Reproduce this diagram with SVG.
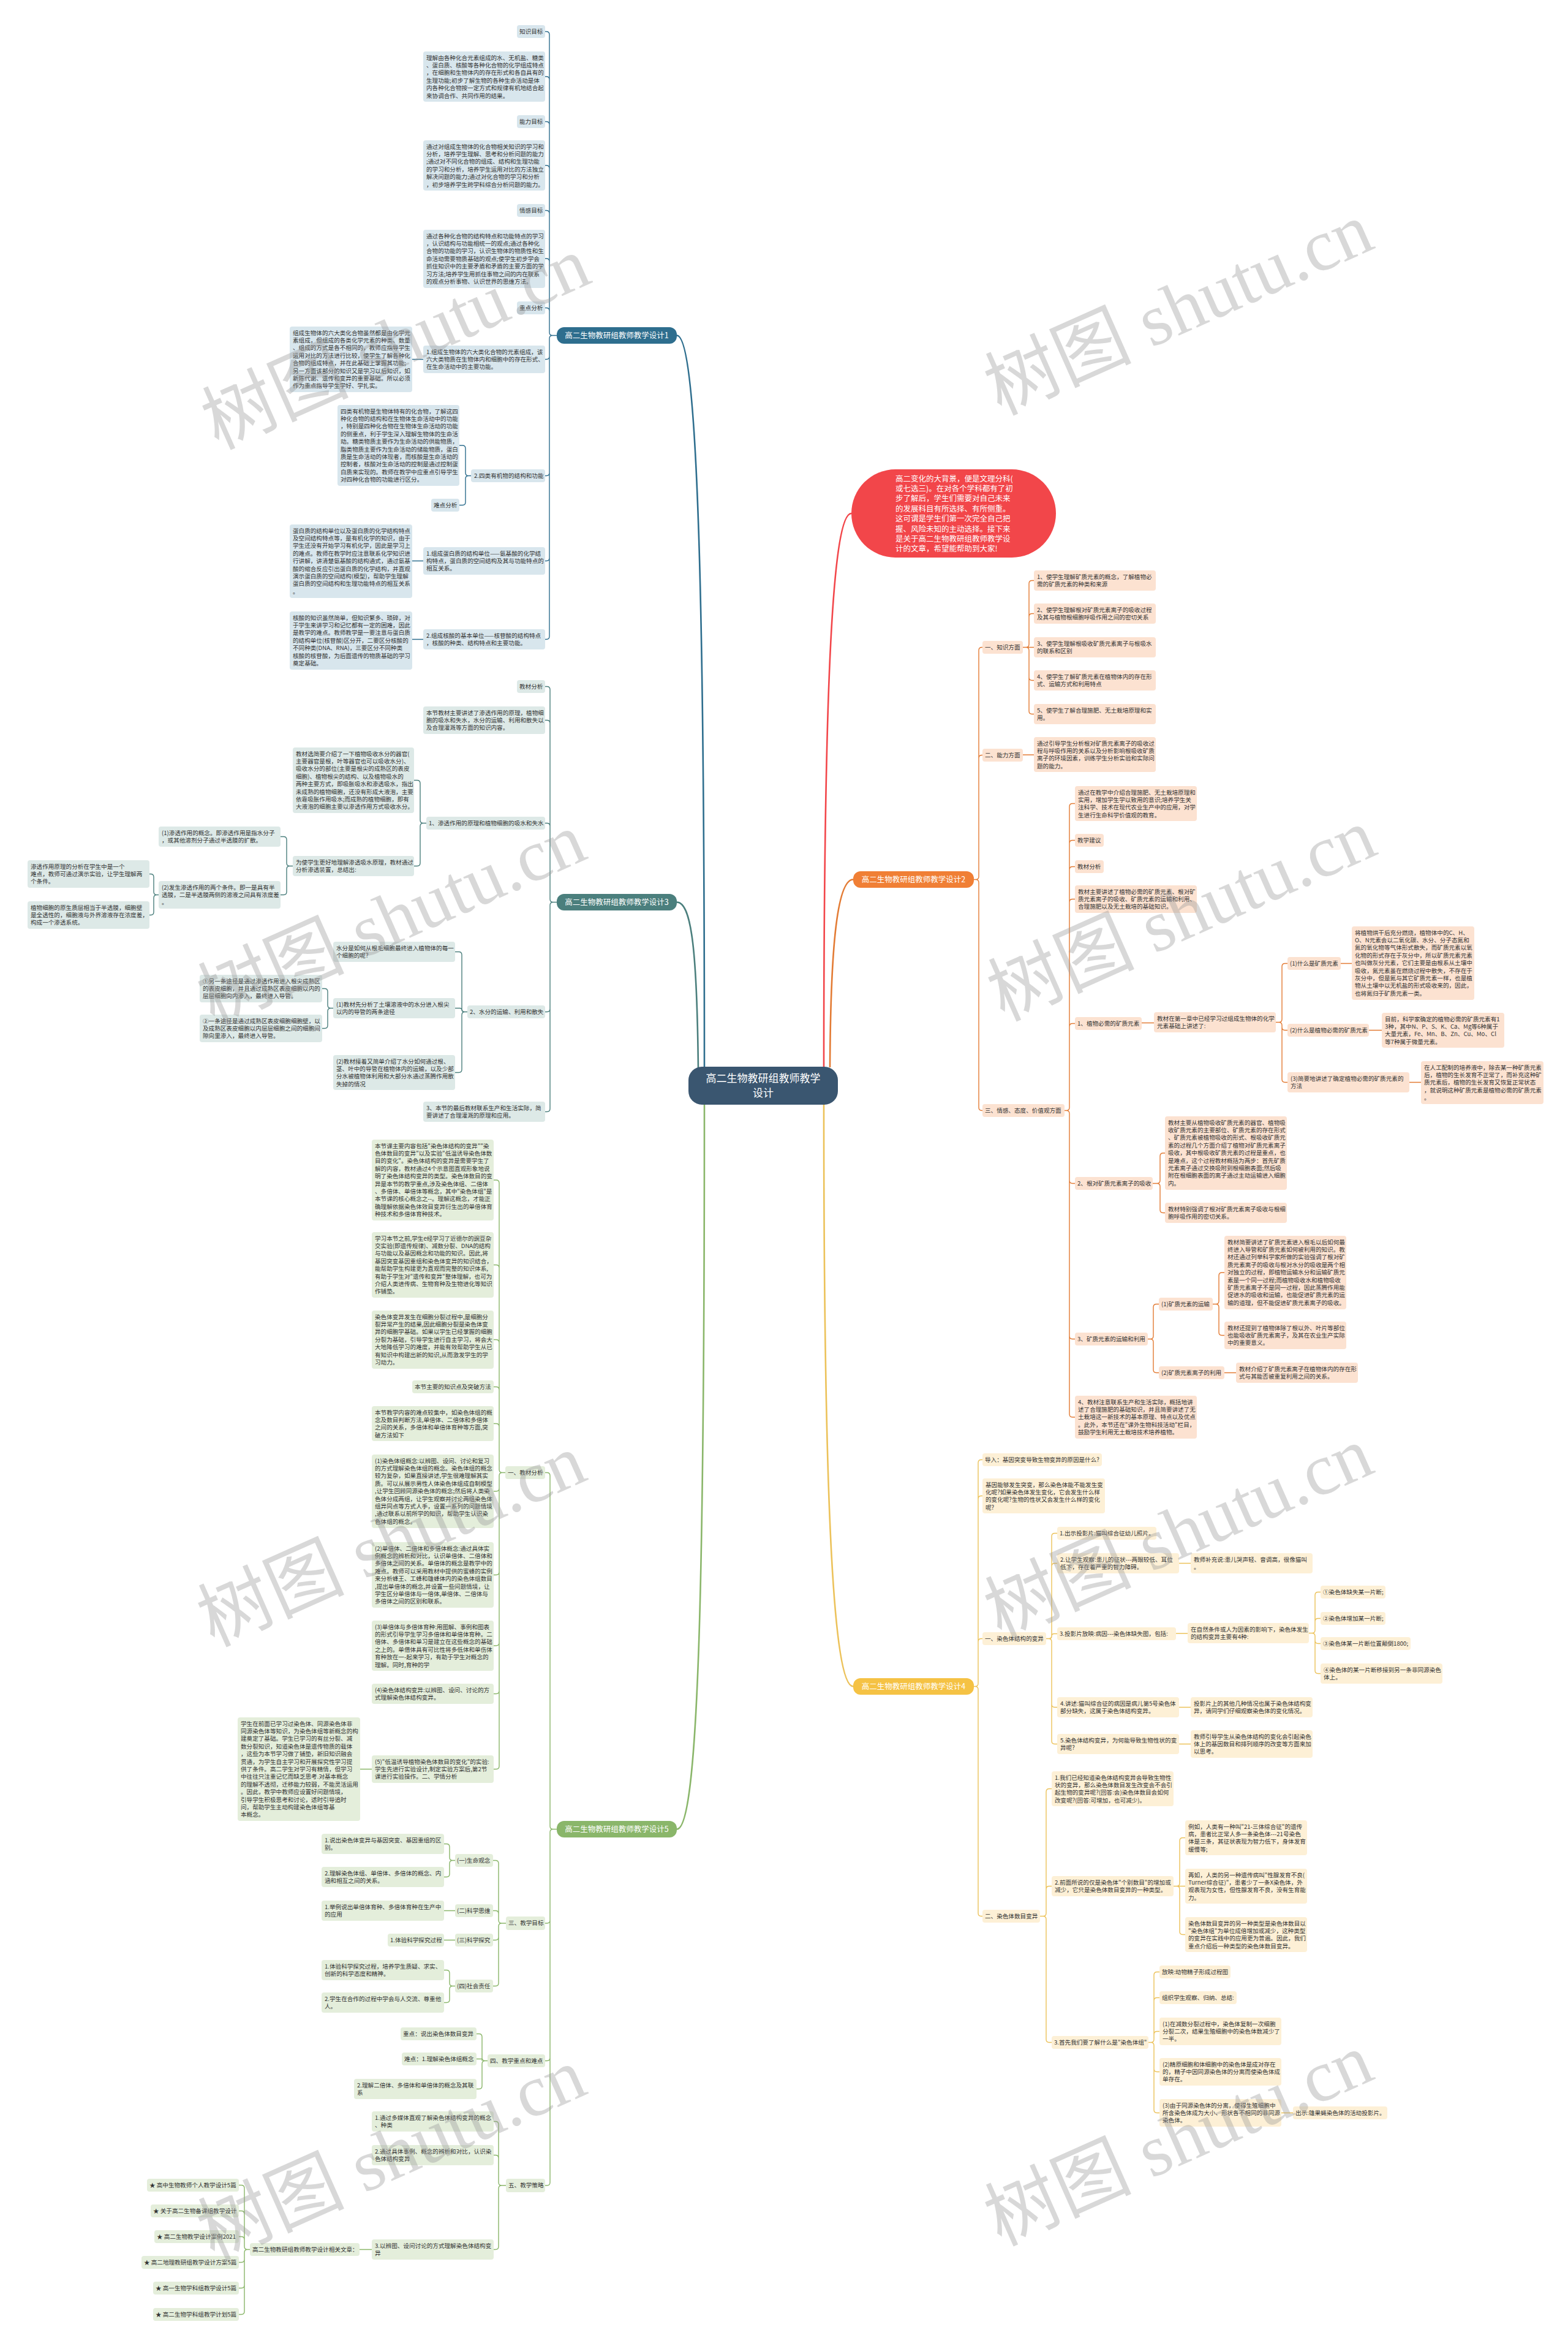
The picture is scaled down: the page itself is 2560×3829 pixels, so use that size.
<svg xmlns="http://www.w3.org/2000/svg" width="2560" height="3829" viewBox="0 0 2560 3829">
<style>
.t{font-family:"Noto Sans CJK SC","Noto Sans",sans-serif;font-size:9.6px;fill:#333}
.bn{font-family:"Noto Sans CJK SC","Noto Sans",sans-serif;font-size:12.5px;text-anchor:middle}
.l1{fill:#d8e6ed}.l3{fill:#dde9e7}.l5{fill:#e4eedb}.l2{fill:#fce2d1}.l4{fill:#fdf0d6}
.c{fill:none;stroke-width:1.4}
.c1{stroke:#2e6e8e}.c3{stroke:#4b7f7d}.c5{stroke:#8ab66a}.c2{stroke:#e37b34}.c4{stroke:#ecc25a}
.rc{fill:none;stroke-width:2.6}
.wm{font-family:"Liberation Serif","Noto Sans CJK SC",serif;font-size:120px;fill:#999;fill-opacity:0.38;text-anchor:middle}
</style>
<rect width="2560" height="3829" fill="#ffffff"/>

<g id="connectors">
<path class="rc c1" d="M1150 1742C1150 1000 1140 547.5 1105 547.5"/>
<path class="rc c3" d="M1140 1745C1138 1560 1130 1472.5 1105 1472.5"/>
<path class="rc c5" d="M1150 1802C1150 2600 1140 2985.5 1105 2985.5"/>
<path class="rc" stroke="#f2464a" d="M1345 1742C1345 1100 1360 838 1390 838"/>
<path class="rc c2" d="M1355 1742C1356 1560 1365 1435.5 1393 1435.5"/>
<path class="rc c4" d="M1345 1802C1345 2450 1360 2752.5 1393 2752.5"/>

<path class="c c1" d="M909 547.5H902Q897 547.5 897 542.5V56.5Q897 51.5 892 51.5H890M897 130Q897 125 892 125H890M897 203.5Q897 198.5 892 198.5H890M897 275Q897 270 892 270H890M897 348.5Q897 343.5 892 343.5H890M897 427Q897 422 892 422H890M897 507.5Q897 502.5 892 502.5H890M902 547.5Q897 547.5 897 552.5V1038.5Q897 1043.5 892 1043.5H890M897 581.5Q897 586.5 892 586.5H890M897 771.5Q897 776.5 892 776.5H890M897 910.5Q897 915.5 892 915.5H890"/>
<path class="c c1" d="M691 586.5H673M769 776.5H765Q760 776.5 760 771.5V732Q760 727 755 727H750M765 776.5Q760 776.5 760 781.5V819.5Q760 824.5 755 824.5H750M691 915.5H673M691 1043.5H673"/>

<path class="c c3" d="M909 1472.5H903Q898 1472.5 898 1467.5V1125.5Q898 1120.5 893 1120.5H890M898 1180.5Q898 1175.5 893 1175.5H890M898 1348.5Q898 1343.5 893 1343.5H890M903 1472.5Q898 1472.5 898 1477.5V1809.5Q898 1814.5 893 1814.5H890M898 1646.5Q898 1651.5 893 1651.5H890"/>
<path class="c c3" d="M696 1343.5H691Q686 1343.5 686 1338.5V1278.5Q686 1273.5 681 1273.5H676M691 1343.5Q686 1343.5 686 1348.5V1408.5Q686 1413.5 681 1413.5H676"/>
<path class="c c3" d="M478 1413.5H473Q468 1413.5 468 1408.5V1370.5Q468 1365.5 463 1365.5H458M473 1413.5Q468 1413.5 468 1418.5V1455.5Q468 1460.5 463 1460.5H458"/>
<path class="c c3" d="M259 1460.5H256Q251 1460.5 251 1455.5V1431.5Q251 1426.5 246 1426.5H244M256 1460.5Q251 1460.5 251 1465.5V1488.5Q251 1493.5 246 1493.5H244"/>
<path class="c c3" d="M763 1651.5H759Q754 1651.5 754 1646.5V1558.5Q754 1553.5 749 1553.5H743M759 1651.5Q754 1651.5 754 1648.5Q754 1645.5 751 1645.5H743M759 1651.5Q754 1651.5 754 1656.5V1745.5Q754 1750.5 749 1750.5H743"/>
<path class="c c3" d="M544 1645.5H540Q535 1645.5 535 1640.5V1618.5Q535 1613.5 530 1613.5H526M540 1645.5Q535 1645.5 535 1650.5V1673.5Q535 1678.5 530 1678.5H526"/>

<path class="c c5" d="M909 2985.5H903Q898 2985.5 898 2980.5V2408.5Q898 2403.5 893 2403.5H890M903 2985.5Q898 2985.5 898 2990.5V3562Q898 3567 893 3567H890M898 3134Q898 3139 893 3139H890M898 3358.5Q898 3363.5 893 3363.5H890"/>
<path class="c c5" d="M825 2403.5H820Q815 2403.5 815 2398.5V1931Q815 1926 810 1926H806M815 2069.5Q815 2064.5 810 2064.5H806M815 2191.5Q815 2186.5 810 2186.5H806M815 2268.5Q815 2263.5 810 2263.5H806M815 2328.5Q815 2323.5 810 2323.5H806M820 2403.5Q815 2403.5 815 2408.5V2882.5Q815 2887.5 810 2887.5H806M815 2429Q815 2434 810 2434H806M815 2565.5Q815 2570.5 810 2570.5H806M815 2681Q815 2686 810 2686H806M815 2759.5Q815 2764.5 810 2764.5H806M607 2887.5H588"/>
<path class="c c5" d="M826 3139H819Q814 3139 814 3134V3041.5Q814 3036.5 809 3036.5H805M814 3123.5Q814 3118.5 809 3118.5H805M819 3139Q814 3139 814 3144V3236.5Q814 3241.5 809 3241.5H805M814 3161.5Q814 3166.5 809 3166.5H805"/>
<path class="c c5" d="M743 3036.5H739Q734 3036.5 734 3031.5V3014.5Q734 3009.5 729 3009.5H725M739 3036.5Q734 3036.5 734 3041.5V3058.5Q734 3063.5 729 3063.5H725M743 3118.5H725M743 3166.5H725M743 3241.5H739Q734 3241.5 734 3236.5V3220.5Q734 3215.5 729 3215.5H725M739 3241.5Q734 3241.5 734 3246.5V3263.5Q734 3268.5 729 3268.5H725"/>
<path class="c c5" d="M796 3363.5H792Q787 3363.5 787 3358.5V3324.5Q787 3319.5 782 3319.5H778M787 3363.5V3360.5H778M792 3363.5Q787 3363.5 787 3368.5V3404.5Q787 3409.5 782 3409.5H778"/>
<path class="c c5" d="M826 3567H819Q814 3567 814 3562V3467.5Q814 3462.5 809 3462.5H806M814 3522.5Q814 3517.5 809 3517.5H806M819 3567Q814 3567 814 3572V3666.5Q814 3671.5 809 3671.5H806M607 3671.5H587"/>
<path class="c c5" d="M408 3671.5H404Q399 3671.5 399 3666.5V3571.5Q399 3566.5 394 3566.5H390M399 3613.5Q399 3608.5 394 3608.5H390M399 3655.5Q399 3650.5 394 3650.5H390M404 3671.5Q399 3671.5 399 3676.5V3772.5Q399 3777.5 394 3777.5H390M399 3687.5Q399 3692.5 394 3692.5H390M399 3729.5Q399 3734.5 394 3734.5H390"/>

<path class="c c2" d="M1590 1435.5H1593Q1598 1435.5 1598 1430.5V1061.5Q1598 1056.5 1603 1056.5H1604M1598 1237.5Q1598 1232.5 1603 1232.5H1604M1593 1435.5Q1598 1435.5 1598 1440.5V1807.5Q1598 1812.5 1603 1812.5H1604"/>
<path class="c c2" d="M1670 1056.5H1675Q1680 1056.5 1680 1051.5V952.5Q1680 947.5 1685 947.5H1688M1680 1006.5Q1680 1001.5 1685 1001.5H1688M1670 1056.5H1688M1675 1056.5Q1680 1056.5 1680 1061.5V1160.5Q1680 1165.5 1685 1165.5H1688M1680 1105.5Q1680 1110.5 1685 1110.5H1688M1670 1232H1688"/>
<path class="c c2" d="M1738 1812.5H1741Q1746 1812.5 1746 1807.5V1316.5Q1746 1311.5 1751 1311.5H1755M1746 1376.5Q1746 1371.5 1751 1371.5H1755M1746 1419.5Q1746 1414.5 1751 1414.5H1755M1746 1472.5Q1746 1467.5 1751 1467.5H1755M1746 1675.5Q1746 1670.5 1751 1670.5H1755M1741 1812.5Q1746 1812.5 1746 1817.5V2308Q1746 2313 1751 2313H1755M1746 1926.5Q1746 1931.5 1751 1931.5H1755M1746 2180.5Q1746 2185.5 1751 2185.5H1755"/>
<path class="c c2" d="M1864 1669.5H1884M2083 1668.5H2088Q2093 1668.5 2093 1663.5V1577.5Q2093 1572.5 2098 1572.5H2102M2088 1668.5Q2093 1668.5 2093 1673.5V1761.5Q2093 1766.5 2098 1766.5H2102M2093 1676.5Q2093 1681.5 2098 1681.5H2102M2189 1572.5H2207M2235 1681.5H2256M2301 1766.5H2320"/>
<path class="c c2" d="M1882 1931.5H1889Q1894 1931.5 1894 1926.5V1887Q1894 1882 1899 1882H1902M1889 1931.5Q1894 1931.5 1894 1936.5V1974.5Q1894 1979.5 1899 1979.5H1902"/>
<path class="c c2" d="M1874 2185.5H1878Q1883 2185.5 1883 2180.5V2133.5Q1883 2128.5 1888 2128.5H1892M1878 2185.5Q1883 2185.5 1883 2190.5V2235.5Q1883 2240.5 1888 2240.5H1892M1980 2128.5H1985Q1990 2128.5 1990 2123.5V2082Q1990 2077 1995 2077H1999M1985 2128.5Q1990 2128.5 1990 2133.5V2174.5Q1990 2179.5 1995 2179.5H1999M1999 2240.5H2018"/>

<path class="c c4" d="M1590 2752.5H1592Q1597 2752.5 1597 2747.5V2387.5Q1597 2382.5 1602 2382.5H1604M1597 2446.5Q1597 2441.5 1602 2441.5H1604M1597 2679.5Q1597 2674.5 1602 2674.5H1604M1592 2752.5Q1597 2752.5 1597 2757.5V3122.5Q1597 3127.5 1602 3127.5H1604"/>
<path class="c c4" d="M1708 2674.5H1712Q1717 2674.5 1717 2669.5V2507.5Q1717 2502.5 1722 2502.5H1726M1717 2556.5Q1717 2551.5 1722 2551.5H1726M1713 2674.5Q1717 2674.5 1717 2670.5Q1717 2666.5 1721 2666.5H1726M1712 2674.5Q1717 2674.5 1717 2679.5V2841.5Q1717 2846.5 1722 2846.5H1726M1717 2781.5Q1717 2786.5 1722 2786.5H1726M1925 2551.5H1944M1920 2666H1939M1925 2786.5H1944M1925 2846.5H1944"/>
<path class="c c4" d="M2137 2665.5H2142Q2147 2665.5 2147 2660.5V2603.5Q2147 2598.5 2152 2598.5H2156M2147 2646.5Q2147 2641.5 2152 2641.5H2156M2142 2665.5Q2147 2665.5 2147 2670.5V2726.5Q2147 2731.5 2152 2731.5H2156M2147 2677.5Q2147 2682.5 2152 2682.5H2156"/>
<path class="c c4" d="M1698 3127.5H1703Q1708 3127.5 1708 3122.5V2924.5Q1708 2919.5 1713 2919.5H1717M1708 3083.5Q1708 3078.5 1713 3078.5H1717M1703 3127.5Q1708 3127.5 1708 3132.5V3328.5Q1708 3333.5 1713 3333.5H1717"/>
<path class="c c4" d="M1916 3078.5H1921Q1926 3078.5 1926 3073.5V3004.5Q1926 2999.5 1931 2999.5H1935M1916 3078.5H1935M1921 3078.5Q1926 3078.5 1926 3083.5V3152.5Q1926 3157.5 1931 3157.5H1935"/>
<path class="c c4" d="M1875 3333.5H1879Q1884 3333.5 1884 3328.5V3223.5Q1884 3218.5 1889 3218.5H1893M1884 3265.5Q1884 3260.5 1889 3260.5H1893M1884 3320.5Q1884 3315.5 1889 3315.5H1893M1879 3333.5Q1884 3333.5 1884 3338.5V3443.5Q1884 3448.5 1889 3448.5H1893M1884 3376.5Q1884 3381.5 1889 3381.5H1893M2092 3448.5H2111"/>
</g>

<g id="root"><rect x="1124" y="1741" width="244" height="62" rx="22" fill="#3a5670"/><text class="bn" x="1246" y="1766" style="font-size:17px" fill="#fff"><tspan x="1246">高二生物教研组教师教学</tspan><tspan x="1246" dy="24">设计</tspan></text></g>

<g id="intro"><rect x="1390" y="766" width="334" height="144" rx="72" fill="#f2464a"/><text class="t" x="1462" y="785.5" style="font-size:12.5px;fill:#fff"><tspan x="1462">高二变化的大背景，便是文理分科(</tspan><tspan x="1462" dy="16.4">或七选三)。在对各个学科都有了初</tspan><tspan x="1462" dy="16.4">步了解后，学生们需要对自己未来</tspan><tspan x="1462" dy="16.4">的发展科目有所选择、有所侧重。</tspan><tspan x="1462" dy="16.4">这可谓是学生们第一次完全自己把</tspan><tspan x="1462" dy="16.4">握、风险未知的主动选择。接下来</tspan><tspan x="1462" dy="16.4">是关于高二生物教研组教师教学设</tspan><tspan x="1462" dy="16.4">计的文章，希望能帮助到大家!</tspan></text></g>

<!-- Branch 1 -->
<g id="b1"><rect x="909" y="534" width="196" height="27" rx="12" fill="#2e6e8e"/><text class="bn" x="1007" y="552" fill="#fff">高二生物教研组教师教学设计1</text></g>
<g id="b1-n01"><rect class="l1" x="844" y="41" width="46" height="21" rx="4"/><text class="t" x="848" y="54.6">知识目标</text></g>
<g id="b1-n02"><rect class="l1" x="691" y="84" width="199" height="82" rx="4"/><text class="t" x="696" y="97.6"><tspan x="696">理解由各种化合元素组成的水、无机盐、糖类</tspan><tspan x="696" dy="12.4">、蛋白质、核酸等各种化合物的化学组成特点</tspan><tspan x="696" dy="12.4">，在细胞和生物体内的存在形式和各自具有的</tspan><tspan x="696" dy="12.4">生理功能;初步了解生物的各种生命活动是体</tspan><tspan x="696" dy="12.4">内各种化合物按一定方式和规律有机地结合起</tspan><tspan x="696" dy="12.4">来协调合作、共同作用的结果。</tspan></text></g>
<g id="b1-n03"><rect class="l1" x="844" y="188" width="46" height="21" rx="4"/><text class="t" x="848" y="201.6">能力目标</text></g>
<g id="b1-n04"><rect class="l1" x="691" y="229" width="199" height="82" rx="4"/><text class="t" x="696" y="242.6"><tspan x="696">通过对组成生物体的化合物相关知识的学习和</tspan><tspan x="696" dy="12.4">分析，培养学生理解、思考和分析问题的能力</tspan><tspan x="696" dy="12.4">;通过对不同化合物的组成、结构和生理功能</tspan><tspan x="696" dy="12.4">的学习和分析，培养学生运用对比的方法独立</tspan><tspan x="696" dy="12.4">解决问题的能力;通过对化合物的学习和分析</tspan><tspan x="696" dy="12.4">，初步培养学生跨学科综合分析问题的能力。</tspan></text></g>
<g id="b1-n05"><rect class="l1" x="844" y="333" width="46" height="21" rx="4"/><text class="t" x="848" y="346.6">情感目标</text></g>
<g id="b1-n06"><rect class="l1" x="691" y="375" width="199" height="95" rx="4"/><text class="t" x="696" y="388.6"><tspan x="696">通过各种化合物的结构特点和功能特点的学习</tspan><tspan x="696" dy="12.4">，认识结构与功能相统一的观点;通过各种化</tspan><tspan x="696" dy="12.4">合物的功能的学习，认识生物体的物质性和生</tspan><tspan x="696" dy="12.4">命活动需要物质基础的观点;使学生初步学会</tspan><tspan x="696" dy="12.4">抓住知识中的主要矛盾和矛盾的主要方面的学</tspan><tspan x="696" dy="12.4">习方法;培养学生用抓住事物之间的内在联系</tspan><tspan x="696" dy="12.4">的观点分析事物、认识世界的思维方法。</tspan></text></g>
<g id="b1-n07"><rect class="l1" x="844" y="492" width="46" height="21" rx="4"/><text class="t" x="848" y="505.6">重点分析</text></g>
<g id="b1-n08"><rect class="l1" x="691" y="564" width="199" height="45" rx="4"/><text class="t" x="696" y="577.6"><tspan x="696">1.组成生物体的六大类化合物的元素组成，该</tspan><tspan x="696" dy="12.4">六大类物质在生物体内和细胞中的存在形式、</tspan><tspan x="696" dy="12.4">在生命活动中的主要功能。</tspan></text></g>
<g id="b1-n09"><rect class="l1" x="473" y="533" width="200" height="107" rx="4"/><text class="t" x="478" y="546.6"><tspan x="478">组成生物体的六大类化合物虽然都是由化学元</tspan><tspan x="478" dy="12.4">素组成，但组成的各类化学元素的种类、数量</tspan><tspan x="478" dy="12.4">、组成的方式是各不相同的，教师应指导学生</tspan><tspan x="478" dy="12.4">运用对比的方法进行比较，使学生了解各种化</tspan><tspan x="478" dy="12.4">合物的组成特点，并在此基础上掌握其功能;</tspan><tspan x="478" dy="12.4">另一方面该部分的知识又是学习以后知识，如</tspan><tspan x="478" dy="12.4">新陈代谢、遗传和变异的重要基础。所以必须</tspan><tspan x="478" dy="12.4">作为重点指导学生学好、学扎实。</tspan></text></g>
<g id="b1-n10"><rect class="l1" x="769" y="766" width="121" height="21" rx="4"/><text class="t" x="774" y="779.6">2.四类有机物的结构和功能</text></g>
<g id="b1-n11"><rect class="l1" x="551" y="661" width="199" height="132" rx="4"/><text class="t" x="556" y="674.6"><tspan x="556">四类有机物是生物体特有的化合物，了解这四</tspan><tspan x="556" dy="12.4">种化合物的结构和在生物体生命活动中的功能</tspan><tspan x="556" dy="12.4">，特别是四种化合物在生物体生命活动的功能</tspan><tspan x="556" dy="12.4">的侧重点，利于学生深入理解生物体的生命活</tspan><tspan x="556" dy="12.4">动。糖类物质主要作为生命活动的供能物质，</tspan><tspan x="556" dy="12.4">脂类物质主要作为生命活动的储能物质，蛋白</tspan><tspan x="556" dy="12.4">质是生命活动的体现者，而核酸是生命活动的</tspan><tspan x="556" dy="12.4">控制者，核酸对生命活动的控制是通过控制蛋</tspan><tspan x="556" dy="12.4">白质来实现的。教师在教学中应重点引导学生</tspan><tspan x="556" dy="12.4">对四种化合物的功能进行区分。</tspan></text></g>
<g id="b1-n12"><rect class="l1" x="704" y="814" width="46" height="21" rx="4"/><text class="t" x="708" y="827.6">难点分析</text></g>
<g id="b1-n13"><rect class="l1" x="691" y="893" width="199" height="45" rx="4"/><text class="t" x="696" y="906.6"><tspan x="696">1.组成蛋白质的结构单位——氨基酸的化学结</tspan><tspan x="696" dy="12.4">构特点，蛋白质的空间结构及其与功能特点的</tspan><tspan x="696" dy="12.4">相互关系。</tspan></text></g>
<g id="b1-n14"><rect class="l1" x="473" y="856" width="200" height="120" rx="4"/><text class="t" x="478" y="869.6"><tspan x="478">蛋白质的结构单位以及蛋白质的化学结构特点</tspan><tspan x="478" dy="12.4">及空间结构特点等，是有机化学的知识，由于</tspan><tspan x="478" dy="12.4">学生还没有开始学习有机化学，因此是学习上</tspan><tspan x="478" dy="12.4">的难点。教师在教学时应注意联系化学知识进</tspan><tspan x="478" dy="12.4">行讲解，讲清楚氨基酸的结构通式，通过氨基</tspan><tspan x="478" dy="12.4">酸的缩合反应引出蛋白质的化学结构，并直观</tspan><tspan x="478" dy="12.4">演示蛋白质的空间结构(模型)，帮助学生理解</tspan><tspan x="478" dy="12.4">蛋白质的空间结构和生理功能特点的相互关系</tspan><tspan x="478" dy="12.4">。</tspan></text></g>
<g id="b1-n15"><rect class="l1" x="691" y="1027" width="199" height="33" rx="4"/><text class="t" x="696" y="1040.6"><tspan x="696">2.组成核酸的基本单位——核苷酸的结构特点</tspan><tspan x="696" dy="12.4">，核酸的种类、结构特点和主要功能。</tspan></text></g>
<g id="b1-n16"><rect class="l1" x="473" y="998" width="200" height="95" rx="4"/><text class="t" x="478" y="1011.6"><tspan x="478">核酸的知识虽然简单，但知识繁多、琐碎，对</tspan><tspan x="478" dy="12.4">于学生来讲学习和记忆都有一定的困难，因此</tspan><tspan x="478" dy="12.4">是教学的难点。教师教学是一要注意与蛋白质</tspan><tspan x="478" dy="12.4">的结构单位(核苷酸)区分开，二要区分核酸的</tspan><tspan x="478" dy="12.4">不同种类(DNA、RNA)，三要区分不同种类</tspan><tspan x="478" dy="12.4">核酸的核苷酸，为后面遗传的物质基础的学习</tspan><tspan x="478" dy="12.4">奠定基础。</tspan></text></g>

<!-- Branch 3 -->
<g id="b3"><rect x="909" y="1459" width="196" height="27" rx="12" fill="#4b7f7d"/><text class="bn" x="1007" y="1477" fill="#fff">高二生物教研组教师教学设计3</text></g>
<g id="b3-n01"><rect class="l3" x="844" y="1110" width="46" height="21" rx="4"/><text class="t" x="848" y="1123.6">教材分析</text></g>
<g id="b3-n02"><rect class="l3" x="691" y="1153" width="199" height="45" rx="4"/><text class="t" x="696" y="1166.6"><tspan x="696">本节教材主要讲述了渗透作用的原理，植物细</tspan><tspan x="696" dy="12.4">胞的吸水和失水，水分的运输、利用和散失以</tspan><tspan x="696" dy="12.4">及合理灌溉等方面的知识内容。</tspan></text></g>
<g id="b3-n03"><rect class="l3" x="696" y="1333" width="194" height="21" rx="4"/><text class="t" x="700" y="1346.6">1、渗透作用的原理和植物细胞的吸水和失水</text></g>
<g id="b3-n04"><rect class="l3" x="478" y="1220" width="198" height="107" rx="4"/><text class="t" x="483" y="1233.6"><tspan x="483">教材选简要介绍了一下植物吸收水分的器官(</tspan><tspan x="483" dy="12.4">主要器官是根，叶等器官也可以吸收水分)、</tspan><tspan x="483" dy="12.4">吸收水分的部位(主要是根尖的成熟区的表皮</tspan><tspan x="483" dy="12.4">细胞)、植物根尖的结构、以及植物吸水的</tspan><tspan x="483" dy="12.4">两种主要方式，即吸胀吸水和渗透吸水，指出</tspan><tspan x="483" dy="12.4">未成熟的植物细胞，还没有形成大液泡，主要</tspan><tspan x="483" dy="12.4">依靠吸胀作用吸水;而成熟的植物细胞，即有</tspan><tspan x="483" dy="12.4">大液泡的细胞主要以渗透作用方式吸收水分。</tspan></text></g>
<g id="b3-n05"><rect class="l3" x="478" y="1397" width="198" height="33" rx="4"/><text class="t" x="483" y="1410.6"><tspan x="483">为使学生更好地理解渗透吸水原理，教材通过</tspan><tspan x="483" dy="12.4">分析渗透装置，总结出:</tspan></text></g>
<g id="b3-n06"><rect class="l3" x="259" y="1349" width="199" height="33" rx="4"/><text class="t" x="264" y="1362.6"><tspan x="264">(1)渗透作用的概念。即渗透作用是指水分子</tspan><tspan x="264" dy="12.4">，或其他溶剂分子通过半透膜的扩散。</tspan></text></g>
<g id="b3-n07"><rect class="l3" x="259" y="1438" width="199" height="45" rx="4"/><text class="t" x="264" y="1451.6"><tspan x="264">(2)发生渗透作用的两个条件。即一是具有半</tspan><tspan x="264" dy="12.4">透膜，二是半透膜两侧的溶液之间具有浓度差</tspan><tspan x="264" dy="12.4">。</tspan></text></g>
<g id="b3-n08"><rect class="l3" x="45" y="1404" width="199" height="45" rx="4"/><text class="t" x="50" y="1417.6"><tspan x="50">渗透作用原理的分析在学生中是一个</tspan><tspan x="50" dy="12.4">难点，教师可通过演示实验，让学生理解两</tspan><tspan x="50" dy="12.4">个条件。</tspan></text></g>
<g id="b3-n09"><rect class="l3" x="45" y="1471" width="199" height="45" rx="4"/><text class="t" x="50" y="1484.6"><tspan x="50">植物细胞的原生质层相当于半透膜，细胞壁</tspan><tspan x="50" dy="12.4">是全透性的，细胞液与外界溶液存在浓度差，</tspan><tspan x="50" dy="12.4">构成一个渗透系统。</tspan></text></g>
<g id="b3-n10"><rect class="l3" x="763" y="1641" width="127" height="21" rx="4"/><text class="t" x="767" y="1654.6">2、水分的运输、利用和散失</text></g>
<g id="b3-n11"><rect class="l3" x="544" y="1537" width="199" height="33" rx="4"/><text class="t" x="549" y="1550.6"><tspan x="549">水分是如何从根毛细胞最终进入植物体的每一</tspan><tspan x="549" dy="12.4">个细胞的呢?</tspan></text></g>
<g id="b3-n12"><rect class="l3" x="544" y="1629" width="199" height="33" rx="4"/><text class="t" x="549" y="1642.6"><tspan x="549">(1)教材先分析了土壤溶液中的水分进入根尖</tspan><tspan x="549" dy="12.4">以内的导管的两条途径</tspan></text></g>
<g id="b3-n13"><rect class="l3" x="326" y="1591" width="200" height="45" rx="4"/><text class="t" x="331" y="1604.6"><tspan x="331">①另一条途径是通过渗透作用进入根尖成熟区</tspan><tspan x="331" dy="12.4">的表皮细胞，并且通过成熟区表皮细胞以内的</tspan><tspan x="331" dy="12.4">层层细胞向内渗入，最终进入导管。</tspan></text></g>
<g id="b3-n14"><rect class="l3" x="326" y="1656" width="200" height="45" rx="4"/><text class="t" x="331" y="1669.6"><tspan x="331">②一条途径是通过成熟区表皮细胞细胞壁，以</tspan><tspan x="331" dy="12.4">及成熟区表皮细胞以内层层细胞之间的细胞间</tspan><tspan x="331" dy="12.4">隙向里渗入，最终进入导管。</tspan></text></g>
<g id="b3-n15"><rect class="l3" x="544" y="1722" width="199" height="57" rx="4"/><text class="t" x="549" y="1735.6"><tspan x="549">(2)教材接着又简单介绍了水分如何通过根、</tspan><tspan x="549" dy="12.4">茎、叶中的导管在植物体内的运输，以及少部</tspan><tspan x="549" dy="12.4">分水被植物体利用和大部分水通过蒸腾作用散</tspan><tspan x="549" dy="12.4">失掉的情况</tspan></text></g>
<g id="b3-n16"><rect class="l3" x="691" y="1798" width="199" height="33" rx="4"/><text class="t" x="696" y="1811.6"><tspan x="696">3、本节的最后教材联系生产和生活实际，简</tspan><tspan x="696" dy="12.4">要讲述了合理灌溉的原理和应用。</tspan></text></g>

<!-- Branch 5 -->
<g id="b5"><rect x="909" y="2972" width="196" height="27" rx="12" fill="#8ab66a"/><text class="bn" x="1007" y="2990" fill="#fff">高二生物教研组教师教学设计5</text></g>
<g id="b5-n01"><rect class="l5" x="825" y="2393" width="65" height="21" rx="4"/><text class="t" x="829" y="2406.6">一、教材分析</text></g>
<g id="b5-n02"><rect class="l5" x="607" y="1860" width="199" height="132" rx="4"/><text class="t" x="612" y="1873.6"><tspan x="612">本节课主要内容包括"染色体结构的变异""染</tspan><tspan x="612" dy="12.4">色体数目的变异"以及实验"低温诱导染色体数</tspan><tspan x="612" dy="12.4">目的变化"。染色体结构的变异是需要学生了</tspan><tspan x="612" dy="12.4">解的内容，教材通过4个示意图直观形象地说</tspan><tspan x="612" dy="12.4">明了染色体结构变异的类型。染色体数目的变</tspan><tspan x="612" dy="12.4">异是本节的教学重点,涉及染色体组、二倍体</tspan><tspan x="612" dy="12.4">、多倍体、单倍体等概念，其中"染色体组"是</tspan><tspan x="612" dy="12.4">本节课的核心概念之--。理解这概念，才能正</tspan><tspan x="612" dy="12.4">确理解依据染色体效目变异衍生出的单倍体育</tspan><tspan x="612" dy="12.4">种技术和多倍体育种技术。</tspan></text></g>
<g id="b5-n03"><rect class="l5" x="607" y="2011" width="199" height="107" rx="4"/><text class="t" x="612" y="2024.6"><tspan x="612">学习本节之前,学生e经学习了近德尔的豌豆杂</tspan><tspan x="612" dy="12.4">交实验(即遗传规律)、减数分裂、DNA的结构</tspan><tspan x="612" dy="12.4">与功能以及基因概念和功能的知识。因此,将</tspan><tspan x="612" dy="12.4">基因突变基因重组和染色体变异的知识结合，</tspan><tspan x="612" dy="12.4">能帮助学生构建更为直观而完整的知识体系,</tspan><tspan x="612" dy="12.4">有助于学生对"遗传和变异"整体理解，也可为</tspan><tspan x="612" dy="12.4">介绍人类进传病、生物育种及生物进化等知识</tspan><tspan x="612" dy="12.4">作铺垫。</tspan></text></g>
<g id="b5-n04"><rect class="l5" x="607" y="2139" width="199" height="95" rx="4"/><text class="t" x="612" y="2152.6"><tspan x="612">染色体变异发生在细胞分裂过程中,是细胞分</tspan><tspan x="612" dy="12.4">裂异常产生的结果,因此细胞分裂是染色体变</tspan><tspan x="612" dy="12.4">异的细胞学基础。如果以学生已经掌握的细胞</tspan><tspan x="612" dy="12.4">分裂为基础，引导学生进行自主学习，将会大</tspan><tspan x="612" dy="12.4">大地降低学习的难度，并能有效帮助学生从已</tspan><tspan x="612" dy="12.4">有知识中构建出新的知识,从而激发学生的学</tspan><tspan x="612" dy="12.4">习动力。</tspan></text></g>
<g id="b5-n05"><rect class="l5" x="673" y="2253" width="133" height="21" rx="4"/><text class="t" x="677" y="2266.6">本节主要的知识点及突破方法</text></g>
<g id="b5-n06"><rect class="l5" x="607" y="2295" width="199" height="57" rx="4"/><text class="t" x="612" y="2308.6"><tspan x="612">本节教学内容的难点较集中，如染色体组的概</tspan><tspan x="612" dy="12.4">念及数目判断方法,单倍体、二倍体和多倍体</tspan><tspan x="612" dy="12.4">之间的关系，多倍体和单倍体育种等方面,突</tspan><tspan x="612" dy="12.4">破方法如下</tspan></text></g>
<g id="b5-n07"><rect class="l5" x="607" y="2374" width="199" height="120" rx="4"/><text class="t" x="612" y="2387.6"><tspan x="612">(1)染色体组概念:以辨图、设问、讨论和复习</tspan><tspan x="612" dy="12.4">的方式理解染色体组的概念。染色体组的概念</tspan><tspan x="612" dy="12.4">较为复杂，如果直接讲述,学生很难理解其实</tspan><tspan x="612" dy="12.4">质。可以从展示男性人体染色体组成自制模型</tspan><tspan x="612" dy="12.4">,让学生回顾同源染色体的概念;然后将人类染</tspan><tspan x="612" dy="12.4">色体分成两组，让学生观察并讨论两组染色体</tspan><tspan x="612" dy="12.4">组异同点等方式人手，设置一系列的问题情境</tspan><tspan x="612" dy="12.4">,通过联系以前所学的知识，帮助学生认识染</tspan><tspan x="612" dy="12.4">色体组的概念。</tspan></text></g>
<g id="b5-n08"><rect class="l5" x="607" y="2517" width="199" height="107" rx="4"/><text class="t" x="612" y="2530.6"><tspan x="612">(2)单倍体、二倍体和多倍体概念:通过具体实</tspan><tspan x="612" dy="12.4">例概念的辨析和对比，认识单倍体、二倍体和</tspan><tspan x="612" dy="12.4">多倍体之间的关系。单倍体的概念是教学中的</tspan><tspan x="612" dy="12.4">难点。教师可以采用教材中提供的蜜蜂的实例</tspan><tspan x="612" dy="12.4">来分析蜂王、工蜂和雄蜂体内的染色体组数目</tspan><tspan x="612" dy="12.4">,提出单倍体的概念,并设置一些问题情境，让</tspan><tspan x="612" dy="12.4">学生区分单倍体与一倍体,单倍体、二倍体与</tspan><tspan x="612" dy="12.4">多倍体之间的区别和联系。</tspan></text></g>
<g id="b5-n09"><rect class="l5" x="607" y="2645" width="199" height="82" rx="4"/><text class="t" x="612" y="2658.6"><tspan x="612">(3)单倍体与多倍体育种:用图解、事例和图表</tspan><tspan x="612" dy="12.4">的形式引导学生学习多倍体和单倍体育种。二</tspan><tspan x="612" dy="12.4">倍体、多倍体和单习是建立在这些概念的基础</tspan><tspan x="612" dy="12.4">之上的。单借体具有可比性将多低体和单伤体</tspan><tspan x="612" dy="12.4">育种放在一-起来学习，有助于学生对概念的</tspan><tspan x="612" dy="12.4">理解。同时,育种的学</tspan></text></g>
<g id="b5-n10"><rect class="l5" x="607" y="2748" width="199" height="33" rx="4"/><text class="t" x="612" y="2761.6"><tspan x="612">(4)染色体结构变异:以辨图、设问、讨论的方</tspan><tspan x="612" dy="12.4">式理解染色体结构变异。</tspan></text></g>
<g id="b5-n11"><rect class="l5" x="607" y="2865" width="199" height="45" rx="4"/><text class="t" x="612" y="2878.6"><tspan x="612">(5)"低温诱导植物染色体数目的变化"的实验:</tspan><tspan x="612" dy="12.4">学生先进行实验设计,制定实验方案后,第2节</tspan><tspan x="612" dy="12.4">课进行实验操作。二、学情分析</tspan></text></g>
<g id="b5-n12"><rect class="l5" x="388" y="2803" width="200" height="169" rx="4"/><text class="t" x="393" y="2816.6"><tspan x="393">学生在前面已学习过染色体、同源染色体非</tspan><tspan x="393" dy="12.4">同源染色体等知识，为染色体组等新概念的构</tspan><tspan x="393" dy="12.4">建奠定了基础。学生已学习的有丝分裂、减</tspan><tspan x="393" dy="12.4">数分裂知识，知道染色体是遗传物质的载体</tspan><tspan x="393" dy="12.4">，这些为本节学习做了铺垫，新旧知识融会</tspan><tspan x="393" dy="12.4">贯通，为学生自主学习和开展探究性学习提</tspan><tspan x="393" dy="12.4">供了条件。高二学生对学习有精情，但学习</tspan><tspan x="393" dy="12.4">中往往只注重记忆而缺乏思考.对基本概念</tspan><tspan x="393" dy="12.4">的理解不透彻，迁移能力较弱，不能灵活运用</tspan><tspan x="393" dy="12.4">。因此，教学中教师应设置好问题情境，</tspan><tspan x="393" dy="12.4">引导学生积极思考和讨论，适时引导追时</tspan><tspan x="393" dy="12.4">问，帮助学生主动构建染色体组等基</tspan><tspan x="393" dy="12.4">本概念。</tspan></text></g>
<g id="b5-n13"><rect class="l5" x="826" y="3128" width="64" height="22" rx="4"/><text class="t" x="830" y="3142">三、教学目标</text></g>
<g id="b5-n14"><rect class="l5" x="743" y="3026" width="62" height="21" rx="4"/><text class="t" x="746" y="3039.6">(一)生命观念</text></g>
<g id="b5-n15"><rect class="l5" x="525" y="2993" width="200" height="33" rx="4"/><text class="t" x="530" y="3006.6"><tspan x="530">1.说出染色体变异与基因突变、基因重组的区</tspan><tspan x="530" dy="12.4">别。</tspan></text></g>
<g id="b5-n16"><rect class="l5" x="525" y="3047" width="200" height="33" rx="4"/><text class="t" x="530" y="3060.6"><tspan x="530">2.理解染色体组、单倍体、多倍体的概念、内</tspan><tspan x="530" dy="12.4">涵和相互之间的关系。</tspan></text></g>
<g id="b5-n17"><rect class="l5" x="743" y="3108" width="62" height="21" rx="4"/><text class="t" x="746" y="3121.6">(二)科学思维</text></g>
<g id="b5-n18"><rect class="l5" x="525" y="3102" width="200" height="33" rx="4"/><text class="t" x="530" y="3115.6"><tspan x="530">1.举例说出单倍体育种、多倍体育种在生产中</tspan><tspan x="530" dy="12.4">的应用</tspan></text></g>
<g id="b5-n19"><rect class="l5" x="743" y="3156" width="62" height="21" rx="4"/><text class="t" x="746" y="3169.6">(三)科学探究</text></g>
<g id="b5-n20"><rect class="l5" x="633" y="3156" width="92" height="21" rx="4"/><text class="t" x="637" y="3169.6">1.体验科学探究过程</text></g>
<g id="b5-n21"><rect class="l5" x="743" y="3231" width="62" height="21" rx="4"/><text class="t" x="746" y="3244.6">(四)社会责任</text></g>
<g id="b5-n22"><rect class="l5" x="525" y="3199" width="200" height="33" rx="4"/><text class="t" x="530" y="3212.6"><tspan x="530">1.体验科学探究过程，培养学生质疑、求实、</tspan><tspan x="530" dy="12.4">创新的科学态度和精神。</tspan></text></g>
<g id="b5-n23"><rect class="l5" x="525" y="3252" width="200" height="33" rx="4"/><text class="t" x="530" y="3265.6"><tspan x="530">2.学生在合作的过程中学会与人交流、尊重他</tspan><tspan x="530" dy="12.4">人。</tspan></text></g>
<g id="b5-n24"><rect class="l5" x="796" y="3353" width="94" height="21" rx="4"/><text class="t" x="800" y="3366.6">四、教学重点和难点</text></g>
<g id="b5-n25"><rect class="l5" x="654" y="3309" width="124" height="21" rx="4"/><text class="t" x="658" y="3322.6">重点：说出染色体数目变异</text></g>
<g id="b5-n26"><rect class="l5" x="656" y="3350" width="122" height="21" rx="4"/><text class="t" x="660" y="3363.6">难点：1.理解染色体组概念</text></g>
<g id="b5-n27"><rect class="l5" x="578" y="3393" width="200" height="33" rx="4"/><text class="t" x="583" y="3406.6"><tspan x="583">2.理解二倍体、多倍体和单倍体的概念及其联</tspan><tspan x="583" dy="12.4">系</tspan></text></g>
<g id="b5-n28"><rect class="l5" x="826" y="3556" width="64" height="22" rx="4"/><text class="t" x="830" y="3570">五、教学策略</text></g>
<g id="b5-n29"><rect class="l5" x="607" y="3446" width="199" height="33" rx="4"/><text class="t" x="612" y="3459.6"><tspan x="612">1.通过多媒体直观了解染色体结构变异的概念</tspan><tspan x="612" dy="12.4">、种类</tspan></text></g>
<g id="b5-n30"><rect class="l5" x="607" y="3501" width="199" height="33" rx="4"/><text class="t" x="612" y="3514.6"><tspan x="612">2.通过具体事例、概念的辨析和对比，认识染</tspan><tspan x="612" dy="12.4">色体结构变异</tspan></text></g>
<g id="b5-n31"><rect class="l5" x="607" y="3655" width="199" height="33" rx="4"/><text class="t" x="612" y="3668.6"><tspan x="612">3.以辨图、设问讨论的方式理解染色体结构变</tspan><tspan x="612" dy="12.4">异</tspan></text></g>
<g id="b5-n32"><rect class="l5" x="408" y="3661" width="179" height="21" rx="4"/><text class="t" x="412" y="3674.6">高二生物教研组教师教学设计相关文章：</text></g>
<g id="b5-n33"><rect class="l5" x="240" y="3556" width="150" height="21" rx="4"/><text class="t" x="244" y="3569.6">★ 高中生物教师个人教学设计5篇</text></g>
<g id="b5-n34"><rect class="l5" x="246" y="3598" width="144" height="21" rx="4"/><text class="t" x="250" y="3611.6">★ 关于高二生物备课组教学设计</text></g>
<g id="b5-n35"><rect class="l5" x="252" y="3640" width="138" height="21" rx="4"/><text class="t" x="256" y="3653.6">★ 高二生物教学设计案例2021</text></g>
<g id="b5-n36"><rect class="l5" x="231" y="3682" width="159" height="21" rx="4"/><text class="t" x="235" y="3695.6">★ 高二地理教研组教学设计方案5篇</text></g>
<g id="b5-n37"><rect class="l5" x="250" y="3724" width="140" height="21" rx="4"/><text class="t" x="254" y="3737.6">★ 高一生物学科组教学设计5篇</text></g>
<g id="b5-n38"><rect class="l5" x="250" y="3767" width="140" height="21" rx="4"/><text class="t" x="254" y="3780.6">★ 高二生物学科组教学计划5篇</text></g>

<!-- Branch 2 -->
<g id="b2"><rect x="1393" y="1422" width="197" height="27" rx="12" fill="#f07f35"/><text class="bn" x="1491.5" y="1440" fill="#fff">高二生物教研组教师教学设计2</text></g>
<g id="b2-n01"><rect class="l2" x="1604" y="1046" width="66" height="21" rx="4"/><text class="t" x="1608" y="1059.6">一、知识方面</text></g>
<g id="b2-n02"><rect class="l2" x="1688" y="931" width="199" height="33" rx="4"/><text class="t" x="1693" y="944.6"><tspan x="1693">1、使学生理解矿质元素的概念，了解植物必</tspan><tspan x="1693" dy="12.4">需的矿质元素的种类和来源</tspan></text></g>
<g id="b2-n03"><rect class="l2" x="1688" y="985" width="199" height="33" rx="4"/><text class="t" x="1693" y="998.6"><tspan x="1693">2、使学生理解根对矿质元素离子的吸收过程</tspan><tspan x="1693" dy="12.4">及其与植物根细胞呼吸作用之间的密切关系</tspan></text></g>
<g id="b2-n04"><rect class="l2" x="1688" y="1040" width="199" height="33" rx="4"/><text class="t" x="1693" y="1053.6"><tspan x="1693">3、使学生理解根吸收矿质元素离子与根吸水</tspan><tspan x="1693" dy="12.4">的联系和区别</tspan></text></g>
<g id="b2-n05"><rect class="l2" x="1688" y="1094" width="199" height="33" rx="4"/><text class="t" x="1693" y="1107.6"><tspan x="1693">4、使学生了解矿质元素在植物体内的存在形</tspan><tspan x="1693" dy="12.4">式、运输方式和利用特点</tspan></text></g>
<g id="b2-n06"><rect class="l2" x="1688" y="1149" width="199" height="33" rx="4"/><text class="t" x="1693" y="1162.6"><tspan x="1693">5、使学生了解合理施肥、无土栽培原理和实</tspan><tspan x="1693" dy="12.4">用。</tspan></text></g>
<g id="b2-n07"><rect class="l2" x="1604" y="1222" width="66" height="21" rx="4"/><text class="t" x="1608" y="1235.6">二、能力方面</text></g>
<g id="b2-n08"><rect class="l2" x="1688" y="1203" width="199" height="57" rx="4"/><text class="t" x="1693" y="1216.6"><tspan x="1693">通过引导学生分析根对矿质元素离子的吸收过</tspan><tspan x="1693" dy="12.4">程与呼吸作用的关系以及分析影响根吸收矿质</tspan><tspan x="1693" dy="12.4">离子的环境因素，训练学生分析实验和实际问</tspan><tspan x="1693" dy="12.4">题的能力。</tspan></text></g>
<g id="b2-n09"><rect class="l2" x="1604" y="1802" width="134" height="21" rx="4"/><text class="t" x="1608" y="1815.6">三、情感、态度、价值观方面</text></g>
<g id="b2-n10"><rect class="l2" x="1755" y="1283" width="199" height="57" rx="4"/><text class="t" x="1760" y="1296.6"><tspan x="1760">通过在教学中介绍合理施肥、无土栽培原理和</tspan><tspan x="1760" dy="12.4">实用，增加学生学以致用的意识;培养学生关</tspan><tspan x="1760" dy="12.4">注科学、技术在现代农业生产中的应用，对学</tspan><tspan x="1760" dy="12.4">生进行生命科学价值观的教育。</tspan></text></g>
<g id="b2-n11"><rect class="l2" x="1755" y="1361" width="47" height="21" rx="4"/><text class="t" x="1759" y="1374.6">教学建议</text></g>
<g id="b2-n12"><rect class="l2" x="1755" y="1404" width="47" height="21" rx="4"/><text class="t" x="1759" y="1417.6">教材分析</text></g>
<g id="b2-n13"><rect class="l2" x="1755" y="1445" width="199" height="45" rx="4"/><text class="t" x="1760" y="1458.6"><tspan x="1760">教材主要讲述了植物必需的矿质元素、根对矿</tspan><tspan x="1760" dy="12.4">质元素离子的吸收、矿质元素的运输和利用、</tspan><tspan x="1760" dy="12.4">合理施肥以及无土栽培的基础知识。</tspan></text></g>
<g id="b2-n14"><rect class="l2" x="1755" y="1660" width="109" height="21" rx="4"/><text class="t" x="1759" y="1673.6">1、植物必需的矿质元素</text></g>
<g id="b2-n15"><rect class="l2" x="1884" y="1652" width="199" height="33" rx="4"/><text class="t" x="1889" y="1665.6"><tspan x="1889">教材在第一章中已经学习过组成生物体的化学</tspan><tspan x="1889" dy="12.4">元素基础上讲述了:</tspan></text></g>
<g id="b2-n16"><rect class="l2" x="2102" y="1562" width="87" height="21" rx="4"/><text class="t" x="2106" y="1575.6">(1)什么是矿质元素</text></g>
<g id="b2-n17"><rect class="l2" x="2207" y="1512" width="200" height="120" rx="4"/><text class="t" x="2212" y="1525.6"><tspan x="2212">将植物烘干后充分燃烧，植物体中的C、H、</tspan><tspan x="2212" dy="12.4">O、N元素会以二氧化碳、水分、分子态氮和</tspan><tspan x="2212" dy="12.4">氮的氧化物等气体形式散失，而矿质元素以氧</tspan><tspan x="2212" dy="12.4">化物的形式存在于灰分中，所以矿质元素元素</tspan><tspan x="2212" dy="12.4">也叫做灰分元素，它们主要是由根系从土壤中</tspan><tspan x="2212" dy="12.4">吸收，氮元素虽在燃烧过程中散失，不存在于</tspan><tspan x="2212" dy="12.4">灰分中，但是氮与其它矿质元素一样，也是植</tspan><tspan x="2212" dy="12.4">物从土壤中以无机盐的形式吸收来的，因此，</tspan><tspan x="2212" dy="12.4">也将氮归于矿质元素一类。</tspan></text></g>
<g id="b2-n18"><rect class="l2" x="2102" y="1671" width="133" height="21" rx="4"/><text class="t" x="2106" y="1684.6">(2)什么是植物必需的矿质元素</text></g>
<g id="b2-n19"><rect class="l2" x="2256" y="1653" width="200" height="57" rx="4"/><text class="t" x="2261" y="1666.6"><tspan x="2261">目前，科学家确定的植物必需的矿质元素有1</tspan><tspan x="2261" dy="12.4">3种，其中N、P、S、K、Ca、Mg等6种属于</tspan><tspan x="2261" dy="12.4">大量元素，Fe、Mn、B、Zn、Cu、Mo、Cl</tspan><tspan x="2261" dy="12.4">等7种属于微量元素。</tspan></text></g>
<g id="b2-n20"><rect class="l2" x="2102" y="1750" width="199" height="33" rx="4"/><text class="t" x="2107" y="1763.6"><tspan x="2107">(3)简要地讲述了确定植物必需的矿质元素的</tspan><tspan x="2107" dy="12.4">方法</tspan></text></g>
<g id="b2-n21"><rect class="l2" x="2320" y="1732" width="200" height="70" rx="4"/><text class="t" x="2325" y="1745.6"><tspan x="2325">在人工配制的培养液中，除去某一种矿质元素</tspan><tspan x="2325" dy="12.4">后，植物的生长发育不正常了，而补充这种矿</tspan><tspan x="2325" dy="12.4">质元素后，植物的生长发育又恢复正常状态</tspan><tspan x="2325" dy="12.4">，就说明这种矿质元素是植物必需的矿质元素</tspan><tspan x="2325" dy="12.4">。</tspan></text></g>
<g id="b2-n22"><rect class="l2" x="1755" y="1921" width="127" height="21" rx="4"/><text class="t" x="1759" y="1934.6">2、根对矿质元素离子的吸收</text></g>
<g id="b2-n23"><rect class="l2" x="1902" y="1822" width="199" height="120" rx="4"/><text class="t" x="1907" y="1835.6"><tspan x="1907">教材主要从植物吸收矿质元素的器官、植物吸</tspan><tspan x="1907" dy="12.4">收矿质元素的主要部位、矿质元素的存在形式</tspan><tspan x="1907" dy="12.4">、矿质元素被植物吸收的形式、根吸收矿质元</tspan><tspan x="1907" dy="12.4">素的过程几个方面介绍了植物对矿质元素离子</tspan><tspan x="1907" dy="12.4">吸收，其中根吸收矿质元素的过程是重点，也</tspan><tspan x="1907" dy="12.4">是难点，这个过程教材概括为两步：首先矿质</tspan><tspan x="1907" dy="12.4">元素离子通过交换吸附到根细胞表面;然后吸</tspan><tspan x="1907" dy="12.4">附在根细胞表面的离子通过主动运输进入细胞</tspan><tspan x="1907" dy="12.4">内。</tspan></text></g>
<g id="b2-n24"><rect class="l2" x="1902" y="1963" width="199" height="33" rx="4"/><text class="t" x="1907" y="1976.6"><tspan x="1907">教材特别强调了根对矿质元素离子吸收与根细</tspan><tspan x="1907" dy="12.4">胞呼吸作用的密切关系。</tspan></text></g>
<g id="b2-n25"><rect class="l2" x="1755" y="2175" width="119" height="21" rx="4"/><text class="t" x="1759" y="2188.6">3、矿质元素的运输和利用</text></g>
<g id="b2-n26"><rect class="l2" x="1892" y="2118" width="88" height="21" rx="4"/><text class="t" x="1896" y="2131.6">(1)矿质元素的运输</text></g>
<g id="b2-n27"><rect class="l2" x="1999" y="2017" width="199" height="120" rx="4"/><text class="t" x="2004" y="2030.6"><tspan x="2004">教材简要讲述了矿质元素进入根毛以后如何最</tspan><tspan x="2004" dy="12.4">终进入导管和矿质元素如何被利用的知识。教</tspan><tspan x="2004" dy="12.4">材还通过列举科学家所做的实验强调了根对矿</tspan><tspan x="2004" dy="12.4">质元素离子的吸收与根对水分的吸收是两个相</tspan><tspan x="2004" dy="12.4">对独立的过程，即植物运输水分和运输矿质元</tspan><tspan x="2004" dy="12.4">素是一个同一过程;而植物吸收水和植物吸收</tspan><tspan x="2004" dy="12.4">矿质元素离子不是同一过程，因此蒸腾作用能</tspan><tspan x="2004" dy="12.4">促进水的吸收和运输，也能促进矿质元素的运</tspan><tspan x="2004" dy="12.4">输的道理，但不能促进矿质元素离子的吸收。</tspan></text></g>
<g id="b2-n28"><rect class="l2" x="1999" y="2157" width="199" height="45" rx="4"/><text class="t" x="2004" y="2170.6"><tspan x="2004">教材还提到了植物体除了根以外、叶片等部位</tspan><tspan x="2004" dy="12.4">也能吸收矿质元素离子，及其在农业生产实际</tspan><tspan x="2004" dy="12.4">中的重要意义。</tspan></text></g>
<g id="b2-n29"><rect class="l2" x="1892" y="2230" width="107" height="21" rx="4"/><text class="t" x="1896" y="2243.6">(2)矿质元素离子的利用</text></g>
<g id="b2-n30"><rect class="l2" x="2018" y="2224" width="199" height="33" rx="4"/><text class="t" x="2023" y="2237.6"><tspan x="2023">教材介绍了矿质元素离子在植物体内的存在形</tspan><tspan x="2023" dy="12.4">式与其能否被重复利用之间的关系。</tspan></text></g>
<g id="b2-n31"><rect class="l2" x="1755" y="2278" width="199" height="70" rx="4"/><text class="t" x="1760" y="2291.6"><tspan x="1760">4、教材注意联系生产和生活实际，概括地讲</tspan><tspan x="1760" dy="12.4">述了合理施肥的基础知识，并且简要讲述了无</tspan><tspan x="1760" dy="12.4">土栽培这一新技术的基本原理、特点以及优点</tspan><tspan x="1760" dy="12.4">。此外，本节还在"课外生物科技活动"栏目，</tspan><tspan x="1760" dy="12.4">鼓励学生利用无土栽培技术培养植物。</tspan></text></g>

<!-- Branch 4 -->
<g id="b4"><rect x="1393" y="2739" width="197" height="27" rx="12" fill="#f5c244"/><text class="bn" x="1491.5" y="2757" fill="#fff">高二生物教研组教师教学设计4</text></g>
<g id="b4-n01"><rect class="l4" x="1604" y="2372" width="195" height="21" rx="4"/><text class="t" x="1608" y="2385.6">导入：基因突变导致生物变异的原因是什么?</text></g>
<g id="b4-n02"><rect class="l4" x="1604" y="2413" width="200" height="57" rx="4"/><text class="t" x="1609" y="2426.6"><tspan x="1609">基因能够发生突变，那么染色体能不能发生变</tspan><tspan x="1609" dy="12.4">化呢?如果染色体发生变化，它会发生什么样</tspan><tspan x="1609" dy="12.4">的变化呢?生物的性状又会发生什么样的变化</tspan><tspan x="1609" dy="12.4">呢?</tspan></text></g>
<g id="b4-n03"><rect class="l4" x="1604" y="2664" width="104" height="21" rx="4"/><text class="t" x="1608" y="2677.6">一、染色体结构的变异</text></g>
<g id="b4-n04"><rect class="l4" x="1726" y="2492" width="162" height="21" rx="4"/><text class="t" x="1730" y="2505.6">1.出示投影片:猫叫综合征幼儿照片。</text></g>
<g id="b4-n05"><rect class="l4" x="1726" y="2535" width="199" height="33" rx="4"/><text class="t" x="1731" y="2548.6"><tspan x="1731">2.让学生观察:患儿的征状---两眼较低、耳位</tspan><tspan x="1731" dy="12.4">低下，存在着严重的智力障碍。</tspan></text></g>
<g id="b4-n06"><rect class="l4" x="1944" y="2535" width="199" height="33" rx="4"/><text class="t" x="1949" y="2548.6"><tspan x="1949">教师补充说:患儿哭声轻、音调高，很像猫叫</tspan><tspan x="1949" dy="12.4">。</tspan></text></g>
<g id="b4-n07"><rect class="l4" x="1726" y="2656" width="194" height="21" rx="4"/><text class="t" x="1730" y="2669.6">3.投影片放映:病因---染色体缺失图，包括:</text></g>
<g id="b4-n08"><rect class="l4" x="1939" y="2649" width="198" height="33" rx="4"/><text class="t" x="1944" y="2662.6"><tspan x="1944">在自然条件或人为因素的影响下，染色体发生</tspan><tspan x="1944" dy="12.4">的结构变异主要有4种:</tspan></text></g>
<g id="b4-n09"><rect class="l4" x="2156" y="2588" width="106" height="21" rx="4"/><text class="t" x="2160" y="2601.6">①染色体缺失某一片断;</text></g>
<g id="b4-n10"><rect class="l4" x="2156" y="2631" width="106" height="21" rx="4"/><text class="t" x="2160" y="2644.6">②染色体增加某一片断;</text></g>
<g id="b4-n11"><rect class="l4" x="2156" y="2672" width="147" height="21" rx="4"/><text class="t" x="2160" y="2685.6">③染色体某一片断位置颠倒1800;</text></g>
<g id="b4-n12"><rect class="l4" x="2156" y="2715" width="199" height="33" rx="4"/><text class="t" x="2161" y="2728.6"><tspan x="2161">④染色体的某一片断移接到另一条非同源染色</tspan><tspan x="2161" dy="12.4">体上。</tspan></text></g>
<g id="b4-n13"><rect class="l4" x="1726" y="2770" width="199" height="33" rx="4"/><text class="t" x="1731" y="2783.6"><tspan x="1731">4.讲述:猫叫综合征的病因是病儿第5号染色体</tspan><tspan x="1731" dy="12.4">部分缺失，这属于染色体结构变异。</tspan></text></g>
<g id="b4-n14"><rect class="l4" x="1944" y="2770" width="199" height="33" rx="4"/><text class="t" x="1949" y="2783.6"><tspan x="1949">投影片上的其他几种情况也属于染色体结构变</tspan><tspan x="1949" dy="12.4">异，请同学们仔细观察染色体的变化情况。</tspan></text></g>
<g id="b4-n15"><rect class="l4" x="1726" y="2830" width="199" height="33" rx="4"/><text class="t" x="1731" y="2843.6"><tspan x="1731">5.染色体结构变异，为何能导致生物性状的变</tspan><tspan x="1731" dy="12.4">异呢?</tspan></text></g>
<g id="b4-n16"><rect class="l4" x="1944" y="2824" width="199" height="45" rx="4"/><text class="t" x="1949" y="2837.6"><tspan x="1949">教师引导学生从染色体结构的变化会引起染色</tspan><tspan x="1949" dy="12.4">体上的基因数目和排列顺序的改变等方面来加</tspan><tspan x="1949" dy="12.4">以思考。</tspan></text></g>
<g id="b4-n17"><rect class="l4" x="1604" y="3117" width="94" height="21" rx="4"/><text class="t" x="1608" y="3130.6">二、染色体数目变异</text></g>
<g id="b4-n18"><rect class="l4" x="1717" y="2891" width="199" height="57" rx="4"/><text class="t" x="1722" y="2904.6"><tspan x="1722">1.我们已经知道染色体结构变异会导致生物性</tspan><tspan x="1722" dy="12.4">状的变异，那么染色体数目发生改变会不会引</tspan><tspan x="1722" dy="12.4">起生物的变异呢?(回答:会)染色体数目会如何</tspan><tspan x="1722" dy="12.4">改变呢?(回答:可增加，也可减少)。</tspan></text></g>
<g id="b4-n19"><rect class="l4" x="1717" y="3062" width="199" height="33" rx="4"/><text class="t" x="1722" y="3075.6"><tspan x="1722">2.前面所说的仅是染色体"个别数目"的增加或</tspan><tspan x="1722" dy="12.4">减少，它只是染色体数目变异的一种类型。</tspan></text></g>
<g id="b4-n20"><rect class="l4" x="1935" y="2971" width="199" height="57" rx="4"/><text class="t" x="1940" y="2984.6"><tspan x="1940">例如，人类有一种叫"21-三体综合征"的遗传</tspan><tspan x="1940" dy="12.4">病，患者比正常人多一条染色体---21号染色</tspan><tspan x="1940" dy="12.4">体是三条，其征状表现为智力低下，身体发育</tspan><tspan x="1940" dy="12.4">缓慢等;</tspan></text></g>
<g id="b4-n21"><rect class="l4" x="1935" y="3050" width="199" height="57" rx="4"/><text class="t" x="1940" y="3063.6"><tspan x="1940">再如，人类的另一种遗传病叫"性腺发育不良(</tspan><tspan x="1940" dy="12.4">Turner综合征)"，患者少了一条X染色体，外</tspan><tspan x="1940" dy="12.4">观表现为女性，但性腺发育不良，没有生育能</tspan><tspan x="1940" dy="12.4">力。</tspan></text></g>
<g id="b4-n22"><rect class="l4" x="1935" y="3129" width="199" height="57" rx="4"/><text class="t" x="1940" y="3142.6"><tspan x="1940">染色体数目变异的另一种类型是染色体数目以</tspan><tspan x="1940" dy="12.4">"染色体组"为单位成倍增加或减少，这种类型</tspan><tspan x="1940" dy="12.4">的变异在实践中的应用更为普遍。因此，我们</tspan><tspan x="1940" dy="12.4">重点介绍后一种类型的染色体数目变异。</tspan></text></g>
<g id="b4-n23"><rect class="l4" x="1717" y="3323" width="158" height="21" rx="4"/><text class="t" x="1721" y="3336.6">3.首先我们要了解什么是"染色体组"</text></g>
<g id="b4-n24"><rect class="l4" x="1893" y="3208" width="116" height="21" rx="4"/><text class="t" x="1897" y="3221.6">放映:动物精子形成过程图</text></g>
<g id="b4-n25"><rect class="l4" x="1893" y="3250" width="126" height="21" rx="4"/><text class="t" x="1897" y="3263.6">组织学生观察、归纳、总结:</text></g>
<g id="b4-n26"><rect class="l4" x="1893" y="3293" width="199" height="45" rx="4"/><text class="t" x="1898" y="3306.6"><tspan x="1898">(1)在减数分裂过程中，染色体复制一次细胞</tspan><tspan x="1898" dy="12.4">分裂二次，结果生殖细胞中的染色体数减少了</tspan><tspan x="1898" dy="12.4">一半。</tspan></text></g>
<g id="b4-n27"><rect class="l4" x="1893" y="3359" width="199" height="45" rx="4"/><text class="t" x="1898" y="3372.6"><tspan x="1898">(2)精原细胞和体细胞中的染色体是成对存在</tspan><tspan x="1898" dy="12.4">的，精子中因同源染色体的分离而使染色体成</tspan><tspan x="1898" dy="12.4">单存在。</tspan></text></g>
<g id="b4-n28"><rect class="l4" x="1893" y="3426" width="199" height="45" rx="4"/><text class="t" x="1898" y="3439.6"><tspan x="1898">(3)由于同源染色体的分离，使得生殖细胞中</tspan><tspan x="1898" dy="12.4">所含染色体成为大小、形状各不相同的非同源</tspan><tspan x="1898" dy="12.4">染色体。</tspan></text></g>
<g id="b4-n29"><rect class="l4" x="2111" y="3438" width="154" height="21" rx="4"/><text class="t" x="2115" y="3451.6">出示:雄果蝇染色体的活动投影片。</text></g>

<g id="watermarks">
<text class="wm" x="647" y="600" transform="rotate(-24 647 562)">树图 shutu.cn</text>
<text class="wm" x="1925" y="544" transform="rotate(-24 1925 506)">树图 shutu.cn</text>
<text class="wm" x="640" y="1540" transform="rotate(-24 640 1502)">树图 shutu.cn</text>
<text class="wm" x="1930" y="1533" transform="rotate(-24 1930 1495)">树图 shutu.cn</text>
<text class="wm" x="640" y="2554" transform="rotate(-24 640 2516)">树图 shutu.cn</text>
<text class="wm" x="1925" y="2542" transform="rotate(-24 1925 2504)">树图 shutu.cn</text>
<text class="wm" x="640" y="3556" transform="rotate(-24 640 3518)">树图 shutu.cn</text>
<text class="wm" x="1925" y="3532" transform="rotate(-24 1925 3494)">树图 shutu.cn</text>
</g>
</svg>
